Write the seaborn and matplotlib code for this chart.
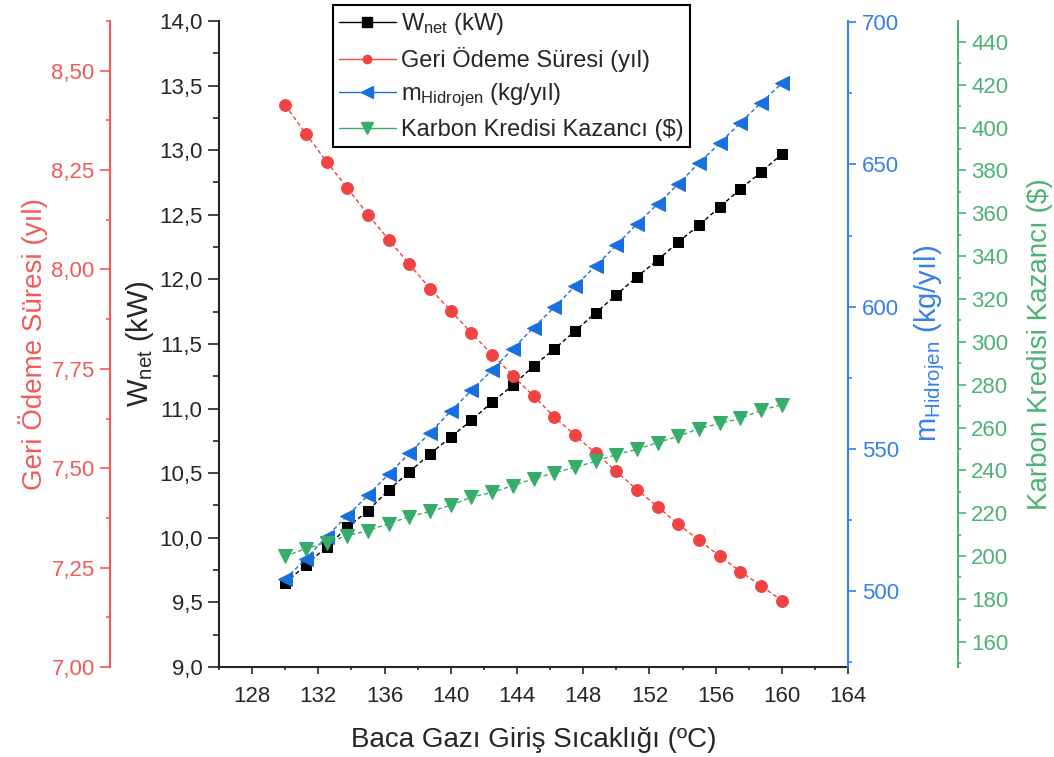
import matplotlib
matplotlib.use("Agg")
import matplotlib.pyplot as plt
from matplotlib.lines import Line2D
from matplotlib.ticker import MultipleLocator, FuncFormatter
import seaborn as sns

# flue gas inlet temperature (ºC)
temps = [130.0, 131.25, 132.5, 133.75, 135.0, 136.25, 137.5, 138.75, 140.0,
         141.25, 142.5, 143.75, 145.0, 146.25, 147.5, 148.75, 150.0, 151.25,
         152.5, 153.75, 155.0, 156.25, 157.5, 158.75, 160.0]

w_net = [9.65, 9.79, 9.93, 10.08, 10.21, 10.37, 10.51, 10.65, 10.78,
         10.91, 11.05, 11.18, 11.33, 11.46, 11.60, 11.74, 11.88, 12.02,
         12.15, 12.29, 12.42, 12.56, 12.70, 12.83, 12.97]

payback = [8.413, 8.341, 8.271, 8.205, 8.138, 8.075, 8.013, 7.952, 7.896,
           7.840, 7.786, 7.733, 7.681, 7.630, 7.583, 7.538, 7.492, 7.446,
           7.403, 7.359, 7.319, 7.279, 7.240, 7.204, 7.167]

m_h2 = [504.1, 511.3, 519.1, 526.4, 533.6, 541.1, 548.4, 555.6, 563.2,
        570.5, 577.7, 585.2, 592.6, 599.8, 607.1, 614.3, 621.6, 629.1,
        636.1, 643.2, 650.6, 657.5, 664.7, 671.7, 678.6]

carbon = [199.9, 203.5, 206.3, 209.5, 211.9, 215.1, 218.4, 220.8, 223.7,
          227.5, 229.7, 232.9, 236.1, 238.8, 241.4, 244.2, 247.4, 249.8,
          253.0, 255.9, 259.5, 261.9, 264.3, 268.0, 270.7]

labels = ["W$_{net}$ (kW)", "Geri Ödeme Süresi (yıl)",
          "m$_{Hidrojen}$ (kg/yıl)", "Karbon Kredisi Kazancı ($)"]

BLACK = "#000000"
RED = "#f04343"
BLUE = "#1a6fdf"
GREEN = "#37ad6b"
RED_AX = "#f25a5a"
BLUE_AX = "#3580ea"
GREEN_AX = "#4cb275"

TICK_FS = 16
LABEL_FS = 20

sns.set_style("ticks")
plt.rcParams["font.family"] = ["Liberation Sans", "DejaVu Sans"]
plt.rcParams["mathtext.default"] = "regular"


def comma(fmt):
    return FuncFormatter(lambda v, p: format(v, fmt).replace(".", ","))


fig = plt.figure(figsize=(10.54, 7.57), dpi=100)
ax = fig.add_axes([0.2078, 0.1189, 0.5968, 0.8534])
ax_red = ax.twinx()
ax_blue = ax.twinx()
ax_green = ax.twinx()

dash = (0, (3, 2))
sns.lineplot(x=temps, y=w_net, ax=ax, color=BLACK, marker="s", markersize=7.5,
             markeredgecolor=BLACK, linestyle=dash, linewidth=1, legend=False)
sns.lineplot(x=temps, y=payback, ax=ax_red, color=RED, marker="o", markersize=8.5,
             markeredgecolor=RED, linestyle=dash, linewidth=1, legend=False)
sns.lineplot(x=temps, y=m_h2, ax=ax_blue, color=BLUE, marker="<", markersize=9.5,
             markeredgecolor=BLUE, linestyle=dash, linewidth=1, legend=False)
sns.lineplot(x=temps, y=carbon, ax=ax_green, color=GREEN, marker="v", markersize=9.5,
             markeredgecolor=GREEN, linestyle=dash, linewidth=1, legend=False)

# x axis
ax.set_xlim(126, 164)
ax.xaxis.set_major_locator(MultipleLocator(4))
ax.xaxis.set_minor_locator(MultipleLocator(2))
ax.set_xlabel("Baca Gazı Giriş Sıcaklığı (ºC)", fontsize=LABEL_FS, labelpad=14)
ax.tick_params(axis="x", which="major", labelsize=TICK_FS, pad=9, length=5, width=1.2)
ax.tick_params(axis="x", which="minor", length=2.5, width=1.2)

# W_net axis (left, black)
ax.set_ylim(9.0, 14.0)
ax.yaxis.set_major_locator(MultipleLocator(0.5))
ax.yaxis.set_minor_locator(MultipleLocator(0.25))
ax.yaxis.set_major_formatter(comma(".1f"))
ax.tick_params(axis="y", which="major", labelsize=TICK_FS, length=8, width=1.2, pad=4)
ax.tick_params(axis="y", which="minor", length=4, width=1.2)
ax.set_ylabel("W$_{net}$ (kW)", fontsize=LABEL_FS + 1)
for s in ["top", "right"]:
    ax.spines[s].set_visible(False)
for s in ["left", "bottom"]:
    ax.spines[s].set_linewidth(1.5)

# payback axis (outer left, red)
ax_red.set_ylim(7.0, 8.625)
ax_red.yaxis.set_label_position("left")
ax_red.yaxis.set_ticks_position("left")
ax_red.spines["left"].set_position(("axes", -0.1733))
for s in ["top", "right", "bottom"]:
    ax_red.spines[s].set_visible(False)
ax_red.spines["left"].set_visible(True)
ax_red.spines["left"].set_color(RED_AX)
ax_red.spines["left"].set_linewidth(1.5)
ax_red.yaxis.set_major_locator(MultipleLocator(0.25))
ax_red.yaxis.set_minor_locator(MultipleLocator(0.125))
ax_red.yaxis.set_major_formatter(comma(".2f"))
ax_red.tick_params(axis="y", which="both", colors=RED_AX, labelsize=TICK_FS, width=1.2, pad=4)
ax_red.tick_params(axis="y", which="major", length=7)
ax_red.tick_params(axis="y", which="minor", length=3)
ax_red.set_ylabel("Geri Ödeme Süresi (yıl)", fontsize=LABEL_FS, color=RED_AX)

# hydrogen axis (right, blue)
ax_blue.set_ylim(473.2, 700.5)
for s in ["top", "left", "bottom"]:
    ax_blue.spines[s].set_visible(False)
ax_blue.spines["right"].set_color(BLUE_AX)
ax_blue.spines["right"].set_linewidth(1.5)
ax_blue.yaxis.set_major_locator(MultipleLocator(50))
ax_blue.yaxis.set_minor_locator(MultipleLocator(25))
ax_blue.tick_params(axis="y", which="both", colors=BLUE_AX, labelsize=TICK_FS, width=1.2, pad=4)
ax_blue.tick_params(axis="y", which="major", length=6)
ax_blue.tick_params(axis="y", which="minor", length=3)
ax_blue.set_ylabel("m$_{Hidrojen}$ (kg/yıl)", fontsize=LABEL_FS + 1, color=BLUE_AX)

# carbon credit axis (outer right, green)
ax_green.set_ylim(148.2, 449.8)
ax_green.spines["right"].set_position(("axes", 1.175))
for s in ["top", "left", "bottom"]:
    ax_green.spines[s].set_visible(False)
ax_green.spines["right"].set_color(GREEN_AX)
ax_green.spines["right"].set_linewidth(1.5)
ax_green.yaxis.set_major_locator(MultipleLocator(20))
ax_green.yaxis.set_minor_locator(MultipleLocator(10))
ax_green.tick_params(axis="y", which="both", colors=GREEN_AX, labelsize=TICK_FS, width=1.2, pad=4)
ax_green.tick_params(axis="y", which="major", length=5.5)
ax_green.tick_params(axis="y", which="minor", length=2.5)
ax_green.set_ylabel("Karbon Kredisi Kazancı ($)", fontsize=LABEL_FS, color=GREEN_AX)

# label placement
for a, xpos in [(ax, -0.1256), (ax_red, -0.2957), (ax_blue, 1.130), (ax_green, 1.305)]:
    a.yaxis.set_label_coords(xpos, 0.5)
    a.yaxis.label.set_verticalalignment("center")

handles = [
    Line2D([], [], color=BLACK, marker="s", markersize=7, lw=1),
    Line2D([], [], color=RED, marker="o", markersize=6, lw=1),
    Line2D([], [], color=BLUE, marker="<", markersize=8, lw=1),
    Line2D([], [], color=GREEN, marker="v", markersize=8, lw=1),
]
leg = ax_green.legend(handles, labels, loc="upper left",
                      bbox_to_anchor=(333 / 1054, 1 - 5 / 757),
                      bbox_transform=fig.transFigure, borderaxespad=0,
                      fontsize=17, frameon=True, fancybox=False, framealpha=1,
                      edgecolor="black", handlelength=2.4, handletextpad=0.25,
                      labelspacing=0.42, borderpad=0.25)
leg.get_frame().set_linewidth(1.5)

fig.savefig("out.png", dpi=100)
